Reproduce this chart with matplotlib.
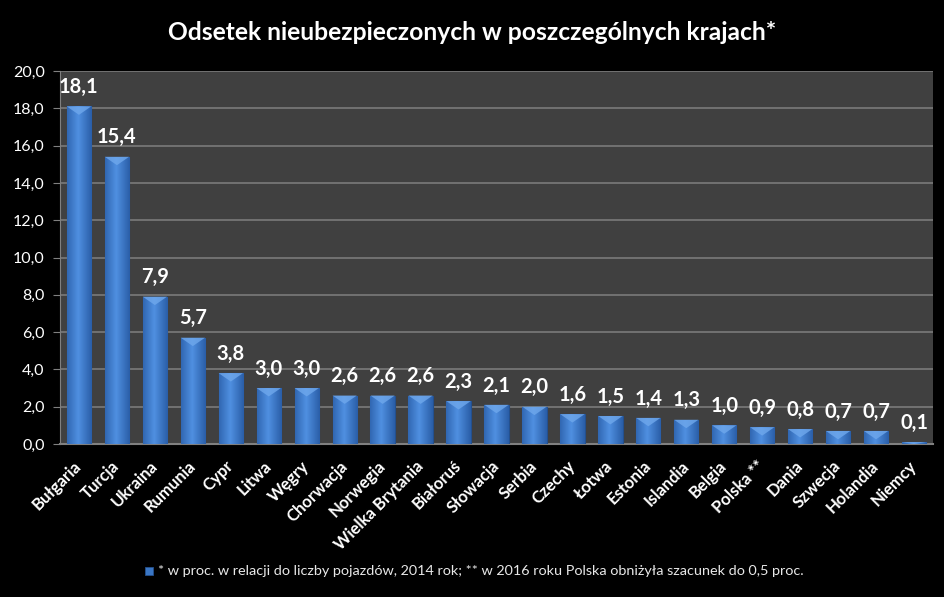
import numpy as np
import matplotlib
matplotlib.use("Agg")
from matplotlib import pyplot as plt
from matplotlib.patches import Rectangle

countries = ["Bułgaria", "Turcja", "Ukraina", "Rumunia", "Cypr", "Litwa", "Węgry",
             "Chorwacja", "Norwegia", "Wielka Brytania", "Białoruś", "Słowacja",
             "Serbia", "Czechy", "Łotwa", "Estonia", "Islandia", "Belgia",
             "Polska **", "Dania", "Szwecja", "Holandia", "Niemcy"]
values = [18.1, 15.4, 7.9, 5.7, 3.8, 3.0, 3.0, 2.6, 2.6, 2.6, 2.3, 2.1,
          2.0, 1.6, 1.5, 1.4, 1.3, 1.0, 0.9, 0.8, 0.7, 0.7, 0.1]
yticks = np.arange(0, 20.1, 2)
title = "Odsetek nieubezpieczonych w poszczególnych krajach*"
note = "* w proc. w relacji do liczby pojazdów, 2014 rok; ** w 2016 roku Polska obniżyła szacunek do 0,5 proc."

plt.rcParams["font.family"] = ["Lato", "DejaVu Sans"]

fig = plt.figure(figsize=(9.45, 5.97), dpi=100, facecolor="black")
ax = fig.add_axes([60 / 945, 1 - 444 / 597, 873 / 945, 373 / 597])
ax.set_facecolor("#404040")

x = np.arange(len(countries))
width = 0.64
bars = ax.bar(x, values, width=width, color="#3a76c4", edgecolor="#24508e",
              linewidth=0.8, zorder=3)

# horizontal gradient inside each bar
grad = np.linspace(0, 1, 64)
grad = 1 - np.abs(grad - 0.45) * 1.6
grad = np.clip(grad, 0, 1)[None, :]
cmap = matplotlib.colors.LinearSegmentedColormap.from_list("b", ["#2a5ea8", "#4f8fe0"])
for b, v in zip(bars, values):
    x0 = b.get_x()
    im = ax.imshow(grad, extent=[x0, x0 + width, 0, v], aspect="auto",
                   cmap=cmap, zorder=3.5, origin="lower")
    im.set_clip_path(b)
    # light bevel at top
    bev = min(0.45, v)
    ax.fill([x0, x0 + width, x0 + width * 0.5], [v, v, v - bev],
            color="#6fa8ec", alpha=0.8, zorder=4, lw=0)
    ax.text(b.get_x() + width / 2, v + 0.5, f"{v:.1f}".replace(".", ","),
            ha="center", va="bottom", color="white", fontsize=14.5,
            fontweight="bold", zorder=5)

ax.set_xlim(-0.5, len(countries) - 0.5)
ax.set_ylim(0, 20)
ax.set_yticks(yticks)
ax.set_yticklabels([f"{t:.1f}".replace(".", ",") for t in yticks],
                   color="white", fontsize=11.5)
ax.set_xticks(x)
ax.set_xticklabels(countries, rotation=45, ha="right", va="center",
                   rotation_mode="anchor", color="white", fontsize=12,
                   fontweight="bold")
ax.grid(axis="y", color="#7a7a7a", linewidth=1.2, zorder=1)
ax.tick_params(axis="x", length=0, pad=14)
ax.tick_params(axis="y", length=5, color="#808080", pad=6)
for s in ["top", "right"]:
    ax.spines[s].set_visible(False)
ax.spines["left"].set_color("#808080")
ax.spines["bottom"].set_color("#808080")
ax.spines["bottom"].set_linewidth(1.5)

fig.text(0.5, 1 - 33 / 597, title, ha="center", va="center", color="white",
         fontsize=17.7, fontweight="bold")

lx = 145 / 945
fig.patches.append(Rectangle((lx, 1 - 575 / 597), 8 / 945, 8 / 597,
                             transform=fig.transFigure, facecolor="#3a76c4",
                             edgecolor="#24508e", lw=0.6))
fig.text(lx + 13 / 945, 1 - 571 / 597, note, ha="left", va="center",
         color="#e8e8e8", fontsize=10.4)

fig.savefig("out.png", dpi=100, facecolor="black")
